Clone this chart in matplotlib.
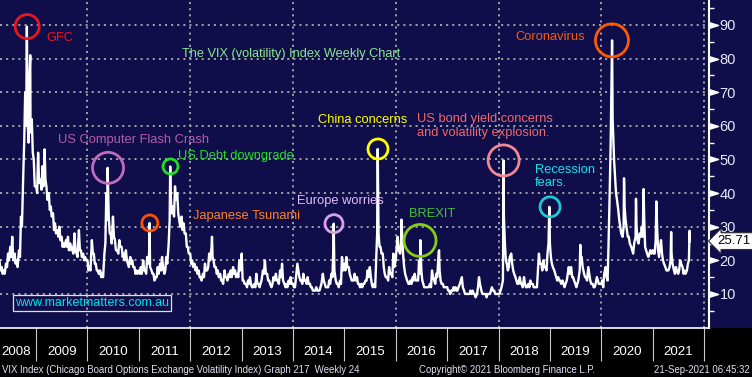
import matplotlib
matplotlib.use('Agg')
import matplotlib.pyplot as plt
import matplotlib.dates as mdates
from matplotlib.patches import Rectangle
from matplotlib.ticker import FixedLocator, FixedFormatter, NullFormatter
from matplotlib.transforms import blended_transform_factory
import pandas as pd

# VIX weekly chart
# readings on the 1st and 15th of each month
vix_2008 = [20, 18, 17, 19, 22, 24, 27, 22, 20, 23, 33, 45, 70, 62, 75, 62, 50]  # from 15 Apr
vix_2009 = [42, 52, 44, 48, 50, 42, 40, 36, 34, 31, 29, 30, 27, 25, 26, 27, 25, 24, 28, 22, 29, 23, 22, 21]
vix_2010 = [20, 18, 26, 22, 19, 17, 17, 16, 22, 40, 33, 28, 33, 26, 23, 26, 24, 22, 23, 19, 21, 20, 18, 17]
vix_2011 = [17, 18, 20, 17, 21, 22, 17, 16, 15, 18, 19, 21, 16, 21, 25, 40, 36, 42, 40, 32, 33, 31, 28, 24]
vix_2012 = [22, 20, 19, 18, 17, 15, 16, 19, 17, 22, 24, 20, 18, 17, 16, 14, 17, 15, 16, 17, 18, 17, 16, 20]
vix_2013 = [22, 14, 13, 14, 15, 12, 13, 16, 13, 13, 17, 20, 16, 14, 12, 15, 16, 14, 17, 19, 13, 13, 14, 15]
vix_2014 = [13, 12, 19, 15, 14, 16, 14, 15, 13, 12, 11, 12, 11, 12, 16, 13, 12, 14, 16, 24, 14, 13, 14, 21]
vix_2015 = [19, 21, 18, 15, 14, 16, 15, 13, 13, 13, 14, 17, 18, 13, 13, 20, 28, 24, 22, 16, 15, 18, 16, 22]
vix_2016 = [20, 27, 22, 28, 18, 15, 13, 14, 15, 16, 14, 20, 17, 13, 12, 12, 13, 17, 14, 16, 22, 14, 13, 12]
vix_2017 = [12, 11, 11, 12, 12, 11, 13, 15, 11, 10, 10, 11, 11, 10, 10, 15, 11, 10, 10, 10, 10, 12, 11, 10]
vix_2018 = [10, 11, 14, 25, 19, 18, 22, 17, 15, 13, 15, 13, 15, 12, 13, 14, 13, 12, 12, 22, 19, 20, 18, 22]
vix_2019 = [25, 19, 17, 15, 15, 14, 14, 12, 14, 18, 18, 15, 13, 13, 17, 21, 16, 15, 18, 14, 13, 12, 15, 13]
vix_2020 = [13, 12, 18, 14, 40, 75, 50, 40, 35, 30, 27, 36, 29, 27, 24, 22, 27, 26, 28, 30, 33, 23, 21, 23]
vix_2021 = [23, 22, 30, 21, 26, 20, 18, 17, 18, 22, 17, 18, 16, 20, 18, 17, 17, 20]  # to 15 Sep

# readings one week later (8th and 22nd)
vix_2008_b = [17, 16, 16, 18, 20, 21, 20, 19, 18, 21, 30, 55, 60, 55, 58, 52, 42]
vix_2009_b = [40, 43, 41, 42, 44, 38, 35, 33, 29, 28, 27, 26, 24, 24, 24, 23, 23, 22, 23, 21, 23, 21, 20, 20]
vix_2010_b = [17, 17, 22, 19, 17, 16, 15, 15, 25, 32, 28, 25, 27, 23, 22, 24, 21, 20, 20, 18, 19, 18, 16, 16]
vix_2011_b = [16, 16, 17, 16, 19, 18, 16, 14, 15, 16, 17, 18, 17, 19, 32, 34, 33, 38, 34, 30, 29, 28, 24, 22]
vix_2012_b = [19, 18, 17, 16, 15, 14, 15, 17, 18, 20, 21, 18, 16, 15, 14, 13, 15, 14, 15, 15, 16, 15, 15, 17]
vix_2013_b = [14, 13, 12, 13, 13, 12, 12, 13, 12, 14, 16, 16, 14, 13, 13, 14, 14, 13, 15, 14, 12, 12, 13, 13]
vix_2014_b = [12, 15, 17, 14, 13, 14, 13, 13, 12, 11, 11, 11, 11, 13, 14, 12, 12, 13, 15, 17, 13, 12, 13, 17]
vix_2015_b = [17, 18, 16, 14, 14, 14, 13, 12, 12, 13, 14, 15, 15, 12, 12, 28, 24, 22, 18, 15, 14, 16, 15, 18]
vix_2016_b = [24, 23, 25, 22, 16, 14, 13, 13, 14, 14, 14, 16, 14, 12, 12, 12, 12, 15, 13, 15, 17, 13, 12, 12]
vix_2017_b = [11, 10, 11, 11, 11, 12, 14, 12, 10, 10, 10, 10, 10, 9, 12, 13, 10, 10, 9, 10, 11, 11, 10, 10]
vix_2018_b = [10, 12, 33, 20, 17, 21, 19, 16, 14, 13, 13, 12, 13, 12, 12, 13, 12, 12, 17, 19, 17, 18, 17, 25]
vix_2019_b = [21, 18, 16, 14, 14, 13, 13, 13, 16, 16, 15, 14, 12, 14, 19, 18, 15, 14, 16, 13, 12, 13, 14, 13]
vix_2020_b = [14, 16, 15, 25, 55, 62, 45, 38, 32, 28, 30, 32, 27, 25, 23, 25, 30, 25, 27, 27, 24, 22, 22, 22]
vix_2021_b = [22, 26, 23, 24, 22, 19, 17, 17, 20, 19, 16, 17, 17, 19, 16, 16, 19]  # to 8 Sep

# weekly highs of the sharp spikes
spike_dates = ['2008-10-27', '2008-11-20', '2009-03-02', '2010-05-24', '2011-03-18', '2011-08-12',
               '2012-06-04', '2014-10-17', '2015-08-26', '2016-02-11', '2016-06-24', '2016-11-04',
               '2018-02-06', '2018-12-28', '2019-08-05', '2020-03-18', '2020-06-11', '2020-09-04',
               '2020-10-28', '2021-01-27', '2021-05-12', '2021-09-20']
spike_highs = [89.5, 81.0, 53.0, 47.5, 31.1, 47.9, 27.0, 30.9, 53.1, 32.1, 26.0, 23.0,
               49.7, 35.9, 24.6, 85.4, 44.4, 38.3, 41.2, 37.5, 28.4, 28.8]

last_date = '2021-09-21'
last_value = 25.71

# annotated events
event_names = ['GFC', 'US Computer Flash Crash', 'Japanese Tsunami', 'US Debt downgrade',
               'Europe worries', 'China concerns', 'US bond yield concerns\nand volatility explosion.',
               'BREXIT', 'Recession\nfears.', 'Coronavirus']
event_dates = ['2008-10-29', '2010-05-27', '2011-03-20', '2011-08-14', '2014-10-19',
               '2015-08-28', '2018-02-06', '2016-06-22', '2019-01-02', '2020-03-17']
event_levels = [89.5, 47.5, 31.1, 47.9, 30.9, 53.1, 49.7, 25.9, 35.9, 85.4]

years = list(range(2008, 2022))
y_ticks = list(range(10, 100, 10))

W, H = 752, 377
NAVY = '#0f0d4a'
BOTTOM = 327.6

values_a = (vix_2008 + vix_2009 + vix_2010 + vix_2011 + vix_2012 + vix_2013 + vix_2014
            + vix_2015 + vix_2016 + vix_2017 + vix_2018 + vix_2019 + vix_2020 + vix_2021)
values_b = (vix_2008_b + vix_2009_b + vix_2010_b + vix_2011_b + vix_2012_b + vix_2013_b + vix_2014_b
            + vix_2015_b + vix_2016_b + vix_2017_b + vix_2018_b + vix_2019_b + vix_2020_b + vix_2021_b)
dates_a = pd.date_range('2008-04-15', periods=len(values_a), freq='SMS')
dates_b = dates_a[:len(values_b)] + pd.Timedelta(days=7)
series = pd.concat([pd.Series(values_a, index=dates_a),
                    pd.Series(values_b, index=dates_b),
                    pd.Series(spike_highs, index=pd.to_datetime(spike_dates)),
                    pd.Series([last_value], index=pd.to_datetime([last_date]))]).sort_index()

plt.rcParams['lines.scale_dashes'] = False
fig = plt.figure(figsize=(W / 100, H / 100), dpi=100)
fig.patch.set_facecolor(NAVY)
fig.add_artist(Rectangle((0, 0), 1, (H - BOTTOM) / H, transform=fig.transFigure,
                         facecolor='black', edgecolor='none', zorder=-1))

ax = fig.add_axes([0, (H - BOTTOM) / H, 709 / W, BOTTOM / H])
ax.set_facecolor(NAVY)
ax.set_xlim(pd.Timestamp('2008-04-19'), pd.Timestamp('2022-02-05'))
ax.set_ylim(0, 97.4)

grid_kw = dict(color='#a0a0a0', lw=1.4, linestyle=(0, (1.5, 2.9)), zorder=1)
for yv in y_ticks:
    ax.axhline(yv, **grid_kw)
for yr in range(2010, 2023, 2):
    ax.axvline(pd.Timestamp(f'{yr}-01-01'), **grid_kw)

ax.plot(series.index, series.values, color='white', lw=1.7, zorder=3)

for sp in ('left', 'top'):
    ax.spines[sp].set_visible(False)
ax.spines['right'].set_color('white')
ax.spines['right'].set_linewidth(1.5)
ax.spines['bottom'].set_color('white')
ax.spines['bottom'].set_linewidth(1.2)

# x axis: year dividers and labels
ax.xaxis.set_major_locator(mdates.YearLocator())
ax.xaxis.set_major_formatter(NullFormatter())
label_pos = [pd.Timestamp(f'{y}-07-02') for y in years]
label_pos[0] = pd.Timestamp('2008-08-12')
ax.xaxis.set_minor_locator(FixedLocator(mdates.date2num(label_pos)))
ax.xaxis.set_minor_formatter(FixedFormatter([str(y) for y in years]))
ax.tick_params(axis='x', which='major', length=23.8, width=0.8, color='#c8c8c8', direction='out')
ax.tick_params(axis='x', which='minor', length=0, pad=13.5, labelsize=9.6, labelcolor='white',
               labelfontfamily='Liberation Sans')

# y axis on the right
ax.yaxis.tick_right()
ax.set_yticks(y_ticks)
ax.set_yticks(list(range(5, 100, 10)), minor=True)
ax.tick_params(axis='y', which='major', length=0, pad=7.5, labelsize=10.5, labelcolor='#e8e8f8',
               labelfontfamily='Liberation Sans')
ax.tick_params(axis='y', which='minor', length=3.5, width=1, color='white', direction='out')
edge = blended_transform_factory(ax.transAxes, ax.transData)
ax.plot([1] * len(y_ticks), y_ticks, ls='none', marker=[(0, -0.5), (1.6, 0), (0, 0.5)],
        markersize=13, color='white', transform=edge, clip_on=False, zorder=5)

ax.text(1.012, last_value, f'{last_value:.2f}', transform=edge, ha='left', va='center',
        fontsize=9.5, family='Liberation Sans', color='black', zorder=6, clip_on=False,
        bbox=dict(boxstyle='larrow,pad=0.18', facecolor='white', edgecolor='#303030', lw=0.8))

# event circles and labels
event_colors = ['#e8161e', '#c06cbc', '#ff5200', '#22dd22', '#d8a0ec', '#ffff00',
                '#f08896', '#88cc10', '#20c8d0', '#ff5a00']
text_colors = ['#e8161e', '#b45cac', '#ff8020', '#22e022', '#e4bcf8', '#ffff00',
               '#f06868', '#40c040', '#10e4e8', '#ff5a00']
radii = [12, 15.5, 8, 7.5, 9, 10, 15.5, 16, 10, 16.5]
offsets = [(19, -11), (-50, 27.5), (43, 6.5), (7.5, 10.5), (-37, 23), (-60, 29),
           (-86.5, 34), (-11, 26.5), (-15, 30), (-97, 3)]
spacing = [1.2, 1.2, 1.2, 1.2, 1.2, 1.2, 1.22, 1.2, 1.12, 1.2]
for name, d, lv, ec, tc, r, off, ls in zip(event_names, event_dates, event_levels, event_colors,
                                           text_colors, radii, offsets, spacing):
    ax.scatter([pd.Timestamp(d)], [lv], s=(2 * r * 0.72) ** 2, facecolors='none',
               edgecolors=ec, linewidths=2, zorder=4, clip_on=False)
    ax.annotate(name, xy=(pd.Timestamp(d), lv), xytext=off, textcoords='offset pixels',
                ha='left', va='center', color=tc, fontsize=9.3, family='Liberation Sans',
                linespacing=ls, zorder=6)

fig.text(182 / W, 1 - 54 / H, 'The VIX (volatility) Index Weekly Chart', ha='left', va='center',
         color='#8ce88c', fontsize=9.2, family='Liberation Sans')
fig.text(15 / W, 1 - 303 / H, 'www.marketmatters.com.au', ha='left', va='center',
         color='#00e4ee', fontsize=9, family='Liberation Sans',
         bbox=dict(boxstyle='square,pad=0.18', facecolor='none', edgecolor='#e0e0e0', lw=0.9))

footer_kw = dict(va='center', color='#e0e0f4', fontsize=6.9, family='Liberation Sans')
fig.text(2 / W, 1 - 370 / H,
         'VIX Index (Chicago Board Options Exchange Volatility Index) Graph 217  Weekly 24',
         ha='left', **footer_kw)
fig.text(419 / W, 1 - 370 / H, 'Copyright\u00a9 2021 Bloomberg Finance L.P.', ha='left', **footer_kw)
fig.text(750 / W, 1 - 370 / H, '21-Sep-2021 06:45:32', ha='right', **footer_kw)

fig.savefig('out.png', dpi=100, facecolor=fig.get_facecolor())
